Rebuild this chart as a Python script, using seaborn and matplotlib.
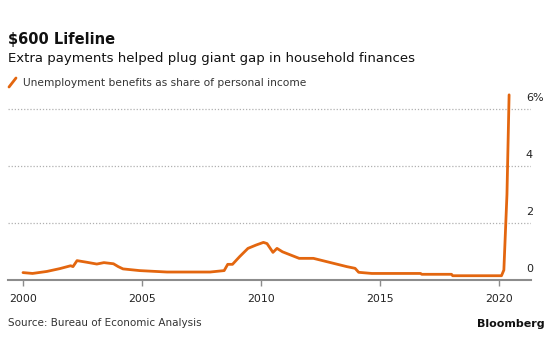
import matplotlib
matplotlib.use('Agg')
import matplotlib.pyplot as plt
import matplotlib.transforms as mtransforms
from matplotlib.lines import Line2D
import seaborn as sns
import pandas as pd

# unemployment benefits as % of personal income
years = [2000.0, 2000.4, 2001.0, 2001.55, 2002.0, 2002.1, 2002.27, 2002.7, 2003.1,
         2003.4, 2003.8, 2004.0, 2004.2, 2004.9, 2006.05, 2007.86, 2008.45, 2008.6,
         2008.8, 2009.1, 2009.45, 2009.8, 2010.1, 2010.25, 2010.5, 2010.67, 2010.9,
         2011.6, 2012.2, 2013.6, 2013.95, 2014.1, 2014.65, 2016.7, 2016.75, 2018.0,
         2018.05, 2020.1, 2020.2, 2020.33, 2020.42]
share = [0.26, 0.23, 0.30, 0.40, 0.50, 0.47, 0.68, 0.62, 0.56,
         0.61, 0.57, 0.47, 0.39, 0.33, 0.28, 0.28, 0.33, 0.55,
         0.55, 0.82, 1.11, 1.23, 1.32, 1.28, 0.97, 1.11, 0.99,
         0.76, 0.76, 0.47, 0.41, 0.27, 0.23, 0.23, 0.20, 0.20,
         0.15, 0.15, 0.35, 3.00, 6.50]
df = pd.DataFrame({'year': years, 'share': share})

x_ticks = [2000, 2005, 2010, 2015, 2020]
y_ticks = [0, 2, 4, 6]
y_labels = ['0', '2', '4', '6%']

orange = '#e3660f'
grey = '#8c8c8c'

sns.set_theme(style='white')
plt.rcParams['font.family'] = ['DejaVu Sans']

fig = plt.figure(figsize=(5.5, 3.55), dpi=100)
ax = fig.add_axes([8 / 550, 1 - 280 / 355, 523 / 550, 190 / 355])

sns.lineplot(data=df, x='year', y='share', color=orange, linewidth=2.0, ax=ax, clip_on=False)

ax.set_xlim(1999.37, 2021.34)
ax.set_ylim(0, 6.67)
for s in ['top', 'right', 'left']:
    ax.spines[s].set_visible(False)
ax.spines['bottom'].set_color(grey)
ax.spines['bottom'].set_linewidth(1.5)
ax.set_xlabel('')
ax.set_ylabel('')
ax.set_xticks(x_ticks)
ax.set_xticklabels([str(t) for t in x_ticks], fontsize=7.8, color='#222222')
ax.tick_params(axis='x', length=4, width=1, color=grey, pad=6, direction='out', bottom=True)
ax.set_yticks([])

for v in y_ticks[1:]:
    ax.axhline(v, color='#b0b0b0', linestyle=(0, (1, 1.5)), linewidth=0.9, zorder=0)
trans = mtransforms.blended_transform_factory(ax.transAxes, ax.transData)
for v, lab in zip(y_ticks, y_labels):
    ax.text(0.99, v + 0.22, lab, transform=trans, ha='left', va='bottom',
            fontsize=8, color='#222222')

fig.text(8 / 550, 1 - 44 / 355, '$600 Lifeline', fontsize=10.5, fontweight='bold',
         color='#111111', ha='left', va='baseline')
fig.text(8 / 550, 1 - 62 / 355, 'Extra payments helped plug giant gap in household finances',
         fontsize=9.5, color='#111111', ha='left', va='baseline')
fig.add_artist(Line2D([9 / 550, 16 / 550], [1 - 87 / 355, 1 - 78 / 355],
                      color=orange, linewidth=2.0, transform=fig.transFigure))
fig.text(23 / 550, 1 - 86 / 355, 'Unemployment benefits as share of personal income',
         fontsize=7.7, color='#333333', ha='left', va='baseline')
fig.text(8 / 550, 1 - 326 / 355, 'Source: Bureau of Economic Analysis',
         fontsize=7.5, color='#333333', ha='left', va='baseline')
fig.text(545 / 550, 1 - 327 / 355, 'Bloomberg', fontsize=8, fontweight='bold',
         color='#111111', ha='right', va='baseline')

plt.savefig('out.png', dpi=100)
plt.close()
